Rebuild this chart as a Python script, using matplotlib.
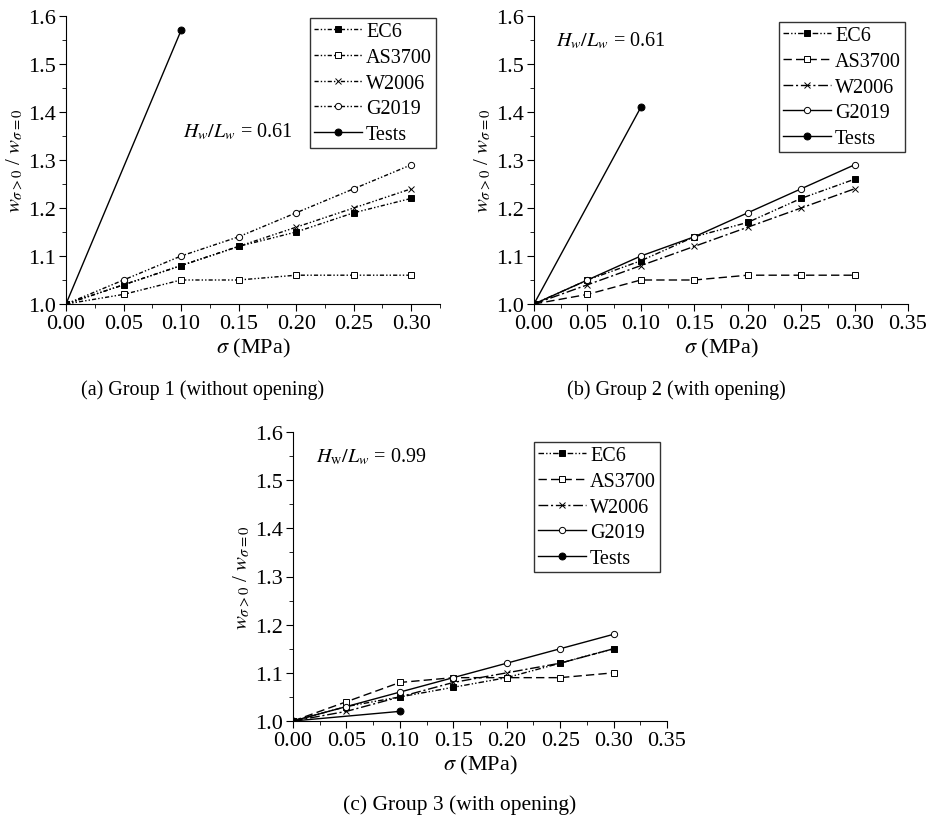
import matplotlib
matplotlib.use("Agg")
import matplotlib.pyplot as plt
from matplotlib.ticker import MultipleLocator, FormatStrFormatter

plt.rcParams['font.family'] = ['Liberation Serif', 'DejaVu Serif']
plt.rcParams['mathtext.fontset'] = 'stix'

sigma = [0.0, 0.05, 0.10, 0.15, 0.20, 0.25, 0.30]
sigma_test = [0.0, 0.10]

# Group 1
g1_ec6 = [1.00, 1.04, 1.08, 1.12, 1.15, 1.19, 1.22]
g1_as3700 = [1.00, 1.02, 1.05, 1.05, 1.06, 1.06, 1.06]
g1_w2006 = [1.00, 1.04, 1.08, 1.12, 1.16, 1.20, 1.24]
g1_g2019 = [1.00, 1.05, 1.10, 1.14, 1.19, 1.24, 1.29]
g1_tests = [1.00, 1.57]

# Group 2
g2_ec6 = [1.00, 1.05, 1.09, 1.14, 1.17, 1.22, 1.26]
g2_as3700 = [1.00, 1.02, 1.05, 1.05, 1.06, 1.06, 1.06]
g2_w2006 = [1.00, 1.04, 1.08, 1.12, 1.16, 1.20, 1.24]
g2_g2019 = [1.00, 1.05, 1.10, 1.14, 1.19, 1.24, 1.29]
g2_tests = [1.00, 1.41]

# Group 3
g3_ec6 = [1.00, 1.03, 1.05, 1.07, 1.09, 1.12, 1.15]
g3_as3700 = [1.00, 1.04, 1.08, 1.09, 1.09, 1.09, 1.10]
g3_w2006 = [1.00, 1.02, 1.05, 1.08, 1.10, 1.12, 1.15]
g3_g2019 = [1.00, 1.03, 1.06, 1.09, 1.12, 1.15, 1.18]
g3_tests = [1.00, 1.02]

labels = ["EC6", "AS3700", "W2006", "G2019", "Tests"]
captions = ["(a) Group 1 (without opening)", "(b) Group 2 (with opening)",
            "(c) Group 3 (with opening)"]
ratios = [r"$H_w/L_w$ = 0.61", r"$H_w/L_w$ = 0.61", r"$H_\mathrm{w}/L_w$ = 0.99"]

W, H = 928, 820
fig = plt.figure(figsize=(W / 100, H / 100), dpi=100)

def ax_rect(l, r, t, b):
    return [l / W, 1 - b / H, (r - l) / W, (b - t) / H]

dd = (0, (3, 1.5, 1, 1.5, 1, 1.5))
dashdotdot_b = (0, (4, 1.5, 1, 1.5, 1, 1.5))
dashed = (0, (6, 3))
dashdot = (0, (7, 2, 1.5, 2))

panels = [
    dict(rect=ax_rect(66, 440, 17, 305), xmax=0.325, xt=0.30,
         data=[g1_ec6, g1_as3700, g1_w2006, g1_g2019, g1_tests],
         styles=[dd, dd, dd, dd, '-'], txt=(0.149, 1.36),
         leg_anchor=(0.989, 0.993), cap=(203, 390), capfs=14.5),
    dict(rect=ax_rect(534, 908, 17, 305), xmax=0.35, xt=0.35,
         data=[g2_ec6, g2_as3700, g2_w2006, g2_g2019, g2_tests],
         styles=[dashdotdot_b, dashed, dashdot, '-', '-'], txt=(0.072, 1.55),
         leg_anchor=(0.992, 0.979), cap=(676, 390), capfs=14.5),
    dict(rect=ax_rect(293, 667, 433, 722), xmax=0.35, xt=0.35,
         data=[g3_ec6, g3_as3700, g3_w2006, g3_g2019, g3_tests],
         styles=[dashdotdot_b, dashed, dashdot, '-', '-'], txt=(0.073, 1.55),
         leg_anchor=(0.981, 0.965), cap=(460, 805), capfs=15.5),
]

markers = ['s', 's', 'x', 'o', 'o']
mfc = ['black', 'white', 'black', 'white', 'black']
msz = [3.8, 3.8, 5, 4.5, 5]

for i, p in enumerate(panels):
    ax = fig.add_axes(p['rect'])
    for k in range(5):
        xs = sigma if k < 4 else sigma_test
        ax.plot(xs, p['data'][k], linestyle=p['styles'][k], color='black',
                lw=1.0, marker=markers[k], markersize=msz[k],
                markerfacecolor=mfc[k], markeredgecolor='black',
                markeredgewidth=0.7, label=labels[k])
    ax.set_xlim(0, p['xmax'])
    ax.set_ylim(1.0, 1.6)
    ax.set_xticks([t for t in [0, .05, .1, .15, .2, .25, .3, .35] if t <= p['xt'] + 1e-9])
    ax.xaxis.set_minor_locator(MultipleLocator(0.025))
    ax.yaxis.set_major_locator(MultipleLocator(0.1))
    ax.yaxis.set_minor_locator(MultipleLocator(0.05))
    ax.xaxis.set_major_formatter(FormatStrFormatter('%.2f'))
    ax.yaxis.set_major_formatter(FormatStrFormatter('%.1f'))
    ax.spines['top'].set_visible(False)
    ax.spines['right'].set_visible(False)
    ax.tick_params(axis='both', which='major', direction='out', length=5,
                   labelsize=16, pad=2.5)
    ax.tick_params(axis='both', which='minor', direction='out', length=3)
    ax.set_xlabel(r"$\sigma$ (MPa)", fontsize=16, labelpad=2)
    ax.set_ylabel(r"$w_{\sigma>0}$ / $w_{\sigma=0}$", fontsize=15, labelpad=2)
    ax.text(p['txt'][0], p['txt'][1], ratios[i],
            fontsize=14.5, ha='center', va='center')
    leg = ax.legend(loc='upper right', bbox_to_anchor=p['leg_anchor'],
                    fontsize=14.5, frameon=True, fancybox=False, edgecolor='black',
                    handlelength=2.4, handletextpad=0.2, borderpad=0.2,
                    labelspacing=0.33, borderaxespad=0.0)
    leg.get_frame().set_linewidth(1.0)
    fig.text(p['cap'][0] / W, 1 - p['cap'][1] / H, captions[i],
             fontsize=p['capfs'], ha='center', va='center')

fig.savefig("out.png", dpi=100)
